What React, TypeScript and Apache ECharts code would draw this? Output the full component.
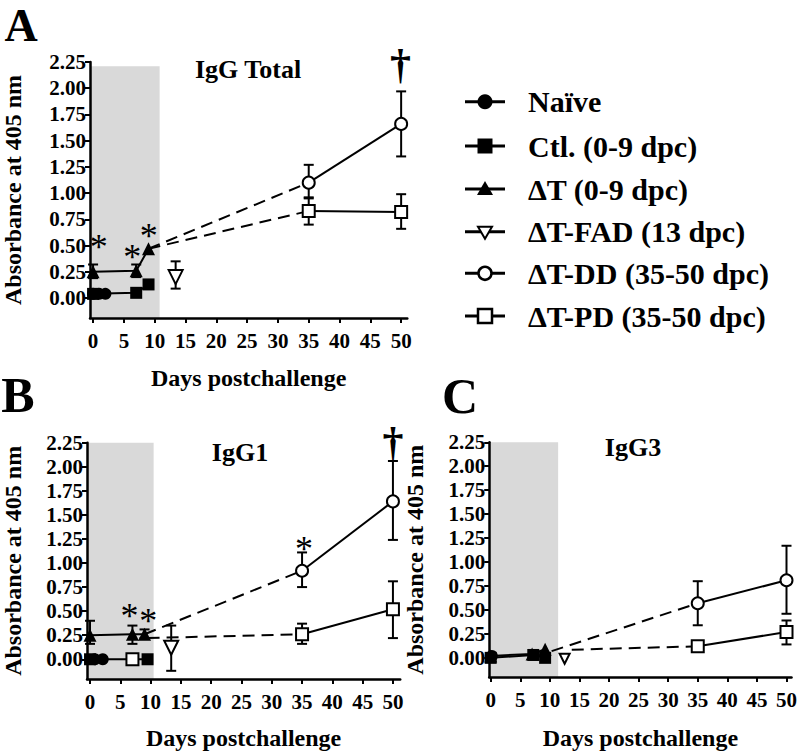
import React, { useEffect, useRef } from "react";
import * as echarts from "echarts";

const FONT = "Liberation Serif, Times New Roman, serif";

const xTicks = [0, 5, 10, 15, 20, 25, 30, 35, 40, 45, 50];
const yTicks = [0, 0.25, 0.5, 0.75, 1, 1.25, 1.5, 1.75, 2, 2.25];
const panelTitles = ["IgG Total", "IgG1", "IgG3"];
const panelLetters = ["A", "B", "C"];
const legendNames = [
  "Naïve",
  "Ctl. (0-9 dpc)",
  "ΔT (0-9 dpc)",
  "ΔT-FAD (13 dpc)",
  "ΔT-DD (35-50 dpc)",
  "ΔT-PD (35-50 dpc)",
];

// ---- Panel A: IgG Total ----
const naiveA = [[0, 0.04], [1, 0.04], [2, 0.04]];
const ctlA = [[0, 0.04], [7, 0.05], [9, 0.13]];
const dtA = [[0, 0.25], [7, 0.26], [9, 0.47]];
const dtErrA = [[0, 0.19, 0.32], [7, 0.2, 0.32]];
const fadA = [[13.4, 0.2]];
const fadErrA = [[13.4, 0.09, 0.35]];
const ddA = [[35, 1.1], [50, 1.66]];
const ddErrA = [[35, 0.95, 1.27], [50, 1.35, 1.97]];
const pdA = [[35, 0.83], [50, 0.82]];
const pdErrA = [[35, 0.7, 0.96], [50, 0.66, 0.99]];
const dashDdA = [[9, 0.47], [35, 1.1]];
const dashPdA = [[9, 0.47], [35, 0.83]];
const starsA = [[0.94, 0.485], [6.34, 0.395], [9.04, 0.59]];
const daggersA = [[49.9, 2.23]];
const shadeA = [[-0.5, 10.8, -0.19, 2.21]];

// ---- Panel B: IgG1 ----
const naiveB = [[0.8, 0.0], [2.1, 0.0]];
const ctlB = [[0, 0.0], [7, 0.0], [9.5, 0.0]];
const dtB = [[0, 0.25], [7, 0.26], [9, 0.26]];
const dtErrB = [[0, 0.16, 0.4], [7, 0.16, 0.35], [9, 0.22, 0.31]];
const fadB = [[13.4, 0.12]];
const fadErrB = [[13.4, -0.12, 0.35]];
const ddB = [[35, 0.92], [50, 1.64]];
const ddErrB = [[35, 0.75, 1.11], [50, 1.24, 2.06]];
const pdB = [[35, 0.26], [50, 0.52]];
const pdErrB = [[35, 0.16, 0.37], [50, 0.22, 0.81]];
const dashDdB = [[9, 0.26], [35, 0.92]];
const dashPdB = [[9.5, 0.22], [35, 0.26]];
const starsB = [[6.5, 0.447], [9.6, 0.398], [35.33, 1.142]];
const daggersB = [[50, 2.257]];
const shadeB = [[-0.5, 10.5, -0.205, 2.25]];

// ---- Panel C: IgG3 ----
const naiveC = [[0.2, 0.02]];
const ctlC = [[0, 0.0], [7.2, 0.03], [9.2, 0.0]];
const dtC = [[0, 0.02], [7, 0.04], [9.2, 0.09]];
const dtErrC: number[][] = [];
const fadC = [[12.5, -0.01]];
const fadErrC: number[][] = [];
const ddC = [[35, 0.57], [50, 0.81]];
const ddErrC = [[35, 0.34, 0.8], [50, 0.46, 1.17]];
const pdC = [[35, 0.12], [50, 0.27]];
const pdErrC = [[35, 0.1, 0.14], [50, 0.14, 0.39]];
const dashDdC = [[10.3, 0.07], [35, 0.57]];
const dashPdC = [[13.7, 0.085], [35, 0.12]];
const starsC: number[][] = [];
const daggersC: number[][] = [];
const shadeC = [[-0.25, 11.4, -0.2, 2.25]];

const grids = [
  { left: 79.8, top: 62, width: 327.5, height: 256 },
  { left: 73.5, top: 442.7, width: 326.7, height: 247.3 },
  { left: 489.2, top: 442.3, width: 302.5, height: 245.4 },
];
const xRanges = [[-0.5, 51], [-0.5, 51.2], [-0.25, 50.85]];
const yRanges = [[-0.19, 2.25], [-0.205, 2.25], [-0.2, 2.25]];

const panels = [
  { naive: naiveA, ctl: ctlA, dt: dtA, dtErr: dtErrA, fad: fadA, fadErr: fadErrA, dd: ddA, ddErr: ddErrA, pd: pdA, pdErr: pdErrA, dashDd: dashDdA, dashPd: dashPdA, stars: starsA, daggers: daggersA, shade: shadeA, fadSize: 14, ctlOpen: -1 },
  { naive: naiveB, ctl: ctlB, dt: dtB, dtErr: dtErrB, fad: fadB, fadErr: fadErrB, dd: ddB, ddErr: ddErrB, pd: pdB, pdErr: pdErrB, dashDd: dashDdB, dashPd: dashPdB, stars: starsB, daggers: daggersB, shade: shadeB, fadSize: 14, ctlOpen: 1 },
  { naive: naiveC, ctl: ctlC, dt: dtC, dtErr: dtErrC, fad: fadC, fadErr: fadErrC, dd: ddC, ddErr: ddErrC, pd: pdC, pdErr: pdErrC, dashDd: dashDdC, dashPd: dashPdC, stars: starsC, daggers: daggersC, shade: shadeC, fadSize: 10, ctlOpen: -1 },
];

const textStyleBase = { fontFamily: FONT, fontWeight: "bold" as const, color: "#000" };

function lineSeries(g: number, data: any[], symbol: string, open: boolean, size: number, extra: any = {}) {
  return {
    type: "line",
    xAxisIndex: g,
    yAxisIndex: g,
    data,
    symbol,
    symbolSize: size,
    showSymbol: true,
    itemStyle: { color: open ? "#fff" : "#000", borderColor: "#000", borderWidth: open ? 2 : 0 },
    lineStyle: { color: "#000", width: 2 },
    emphasis: { disabled: true },
    z: 5,
    silent: true,
    ...extra,
  };
}

function dashSeries(g: number, data: number[][]) {
  return {
    type: "line",
    xAxisIndex: g,
    yAxisIndex: g,
    data,
    symbol: "none",
    lineStyle: { color: "#000", width: 2, type: [12, 7] },
    z: 3,
    silent: true,
  };
}

function errSeries(g: number, data: number[][]) {
  return {
    type: "custom",
    xAxisIndex: g,
    yAxisIndex: g,
    data,
    z: 4,
    silent: true,
    encode: { x: 0, y: [1, 2] },
    renderItem: (_p: any, api: any) => {
      const x = api.value(0);
      const lo = api.coord([x, api.value(1)]);
      const hi = api.coord([x, api.value(2)]);
      const w = 5;
      const st = { stroke: "#000", lineWidth: 2 };
      return {
        type: "group",
        children: [
          { type: "line", shape: { x1: lo[0], y1: lo[1], x2: hi[0], y2: hi[1] }, style: st },
          { type: "line", shape: { x1: lo[0] - w, y1: lo[1], x2: lo[0] + w, y2: lo[1] }, style: st },
          { type: "line", shape: { x1: hi[0] - w, y1: hi[1], x2: hi[0] + w, y2: hi[1] }, style: st },
        ],
      };
    },
  };
}

function shadeSeries(g: number, data: number[][]) {
  return {
    type: "custom",
    xAxisIndex: g,
    yAxisIndex: g,
    data,
    z: 0,
    silent: true,
    encode: { x: [0, 1], y: [2, 3] },
    renderItem: (_p: any, api: any) => {
      const a = api.coord([api.value(0), api.value(3)]);
      const b = api.coord([api.value(1), api.value(2)]);
      return {
        type: "rect",
        shape: { x: a[0], y: a[1], width: b[0] - a[0], height: b[1] - a[1] },
        style: { fill: "#d9d9d9" },
      };
    },
  };
}

function annotSeries(g: number, data: number[][], text: string, size: number, weight: string) {
  return {
    type: "custom",
    xAxisIndex: g,
    yAxisIndex: g,
    data,
    z: 6,
    silent: true,
    clip: false,
    encode: { x: 0, y: 1 },
    renderItem: (_p: any, api: any) => {
      const p = api.coord([api.value(0), api.value(1)]);
      return {
        type: "text",
        x: p[0],
        y: p[1],
        style: {
          text,
          fontSize: size,
          fontFamily: FONT,
          fontWeight: weight,
          fill: "#000",
          align: "center",
          verticalAlign: "middle",
        },
      };
    },
  };
}

function buildOption() {
  const series: any[] = [];
  panels.forEach((p, g) => {
    series.push(shadeSeries(g, p.shade));
    series.push(dashSeries(g, p.dashDd));
    series.push(dashSeries(g, p.dashPd));
    series.push(errSeries(g, [...p.dtErr, ...p.fadErr, ...p.ddErr, ...p.pdErr]));
    const ctlData = p.ctl.map((d, i) =>
      i === p.ctlOpen
        ? { value: d, itemStyle: { color: "#fff", borderColor: "#000", borderWidth: 2 } }
        : d
    );
    series.push(lineSeries(g, ctlData, "rect", false, 12));
    series.push(lineSeries(g, p.naive, "circle", false, 12));
    series.push(lineSeries(g, p.dt, "triangle", false, 13));
    series.push(lineSeries(g, p.fad, "triangle", true, p.fadSize, { symbolRotate: 180 }));
    series.push(lineSeries(g, p.dd, "circle", true, 12));
    series.push(lineSeries(g, p.pd, "rect", true, 12));
    series.push(annotSeries(g, p.stars, "*", 36, "normal"));
    series.push(annotSeries(g, p.daggers, "†", 42, "bold"));
  });

  const xAxis = grids.map((_g, i) => ({
    gridIndex: i,
    type: "value",
    min: xRanges[i][0],
    max: xRanges[i][1],
    axisLine: { show: true, onZero: false, lineStyle: { color: "#000", width: 2.5 } },
    axisTick: { show: true, length: 5, customValues: xTicks, lineStyle: { color: "#000", width: 2 } },
    axisLabel: { customValues: xTicks, margin: 12, fontSize: 21, ...textStyleBase },
    splitLine: { show: false },
    name: "Days postchallenge",
    nameLocation: "middle",
    nameGap: [48, 47, 49][i],
    nameTextStyle: { fontSize: 24, ...textStyleBase },
  }));

  const yAxis = grids.map((_g, i) => ({
    gridIndex: i,
    type: "value",
    min: yRanges[i][0],
    max: yRanges[i][1],
    axisLine: { show: true, onZero: false, lineStyle: { color: "#000", width: 2.5 } },
    axisTick: { show: true, length: 5, customValues: yTicks, lineStyle: { color: "#000", width: 2 } },
    axisLabel: {
      customValues: yTicks,
      margin: 4,
      fontSize: 21,
      ...textStyleBase,
      formatter: (v: number) => v.toFixed(2),
    },
    splitLine: { show: false },
    name: "Absorbance at 405 nm",
    nameLocation: "middle",
    nameGap: [65, 62, 62][i],
    nameRotate: 90,
    nameTextStyle: { fontSize: 24, ...textStyleBase },
  }));

  const graphic: any[] = [];
  const titlePos = [[248, 69], [240, 452], [633, 447]];
  panelTitles.forEach((t, i) => {
    graphic.push({
      type: "text",
      x: titlePos[i][0],
      y: titlePos[i][1],
      style: { text: t, fontSize: 26, fontFamily: FONT, fontWeight: "bold", fill: "#000", align: "center", verticalAlign: "middle" },
    });
  });
  const letterPos = [[21, 25], [18, 395], [460, 396]];
  panelLetters.forEach((t, i) => {
    graphic.push({
      type: "text",
      x: letterPos[i][0],
      y: letterPos[i][1],
      style: { text: t, fontSize: i === 0 ? 46 : 50, fontFamily: FONT, fontWeight: "bold", fill: "#000", align: "center", verticalAlign: "middle" },
    });
  });

  // Legend
  const legY = [101.7, 146, 189, 231.7, 273.3, 316];
  const lx1 = 465, lx2 = 505, mx = 485, tx = 528;
  legendNames.forEach((name, i) => {
    const y = legY[i];
    graphic.push({ type: "line", shape: { x1: lx1, y1: y, x2: lx2, y2: y }, style: { stroke: "#000", lineWidth: 3 } });
    let marker: any;
    if (i === 0) marker = { type: "circle", shape: { cx: mx, cy: y, r: 7.5 }, style: { fill: "#000" } };
    else if (i === 1) marker = { type: "rect", shape: { x: mx - 7.5, y: y - 7.5, width: 15, height: 15 }, style: { fill: "#000" } };
    else if (i === 2) marker = { type: "polygon", shape: { points: [[mx, y - 8], [mx - 8, y + 6], [mx + 8, y + 6]] }, style: { fill: "#000" } };
    else if (i === 3) marker = { type: "polygon", shape: { points: [[mx - 7, y - 5], [mx + 7, y - 5], [mx, y + 7]] }, style: { fill: "#fff", stroke: "#000", lineWidth: 2 } };
    else if (i === 4) marker = { type: "circle", shape: { cx: mx, cy: y, r: 6.5 }, style: { fill: "#fff", stroke: "#000", lineWidth: 2.5 } };
    else marker = { type: "rect", shape: { x: mx - 7, y: y - 7, width: 14, height: 14 }, style: { fill: "#fff", stroke: "#000", lineWidth: 2.5 } };
    graphic.push(marker);
    graphic.push({
      type: "text",
      x: tx,
      y,
      style: { text: name, fontSize: 30, fontFamily: FONT, fontWeight: "bold", fill: "#000", align: "left", verticalAlign: "middle" },
    });
  });

  return {
    animation: false,
    backgroundColor: "#fff",
    textStyle: { fontFamily: FONT },
    grid: grids.map((g) => ({ ...g, containLabel: false })),
    xAxis,
    yAxis,
    series,
    graphic,
  };
}

export default function App() {
  const ref = useRef<HTMLDivElement>(null);
  useEffect(() => {
    document.body.style.margin = "0";
    if (!ref.current) return;
    const chart = echarts.init(ref.current, undefined, { renderer: "svg" });
    chart.setOption(buildOption() as any);
    return () => chart.dispose();
  }, []);
  return <div ref={ref} style={{ width: 800, height: 751, position: "absolute", left: 0, top: 0 }} />;
}
